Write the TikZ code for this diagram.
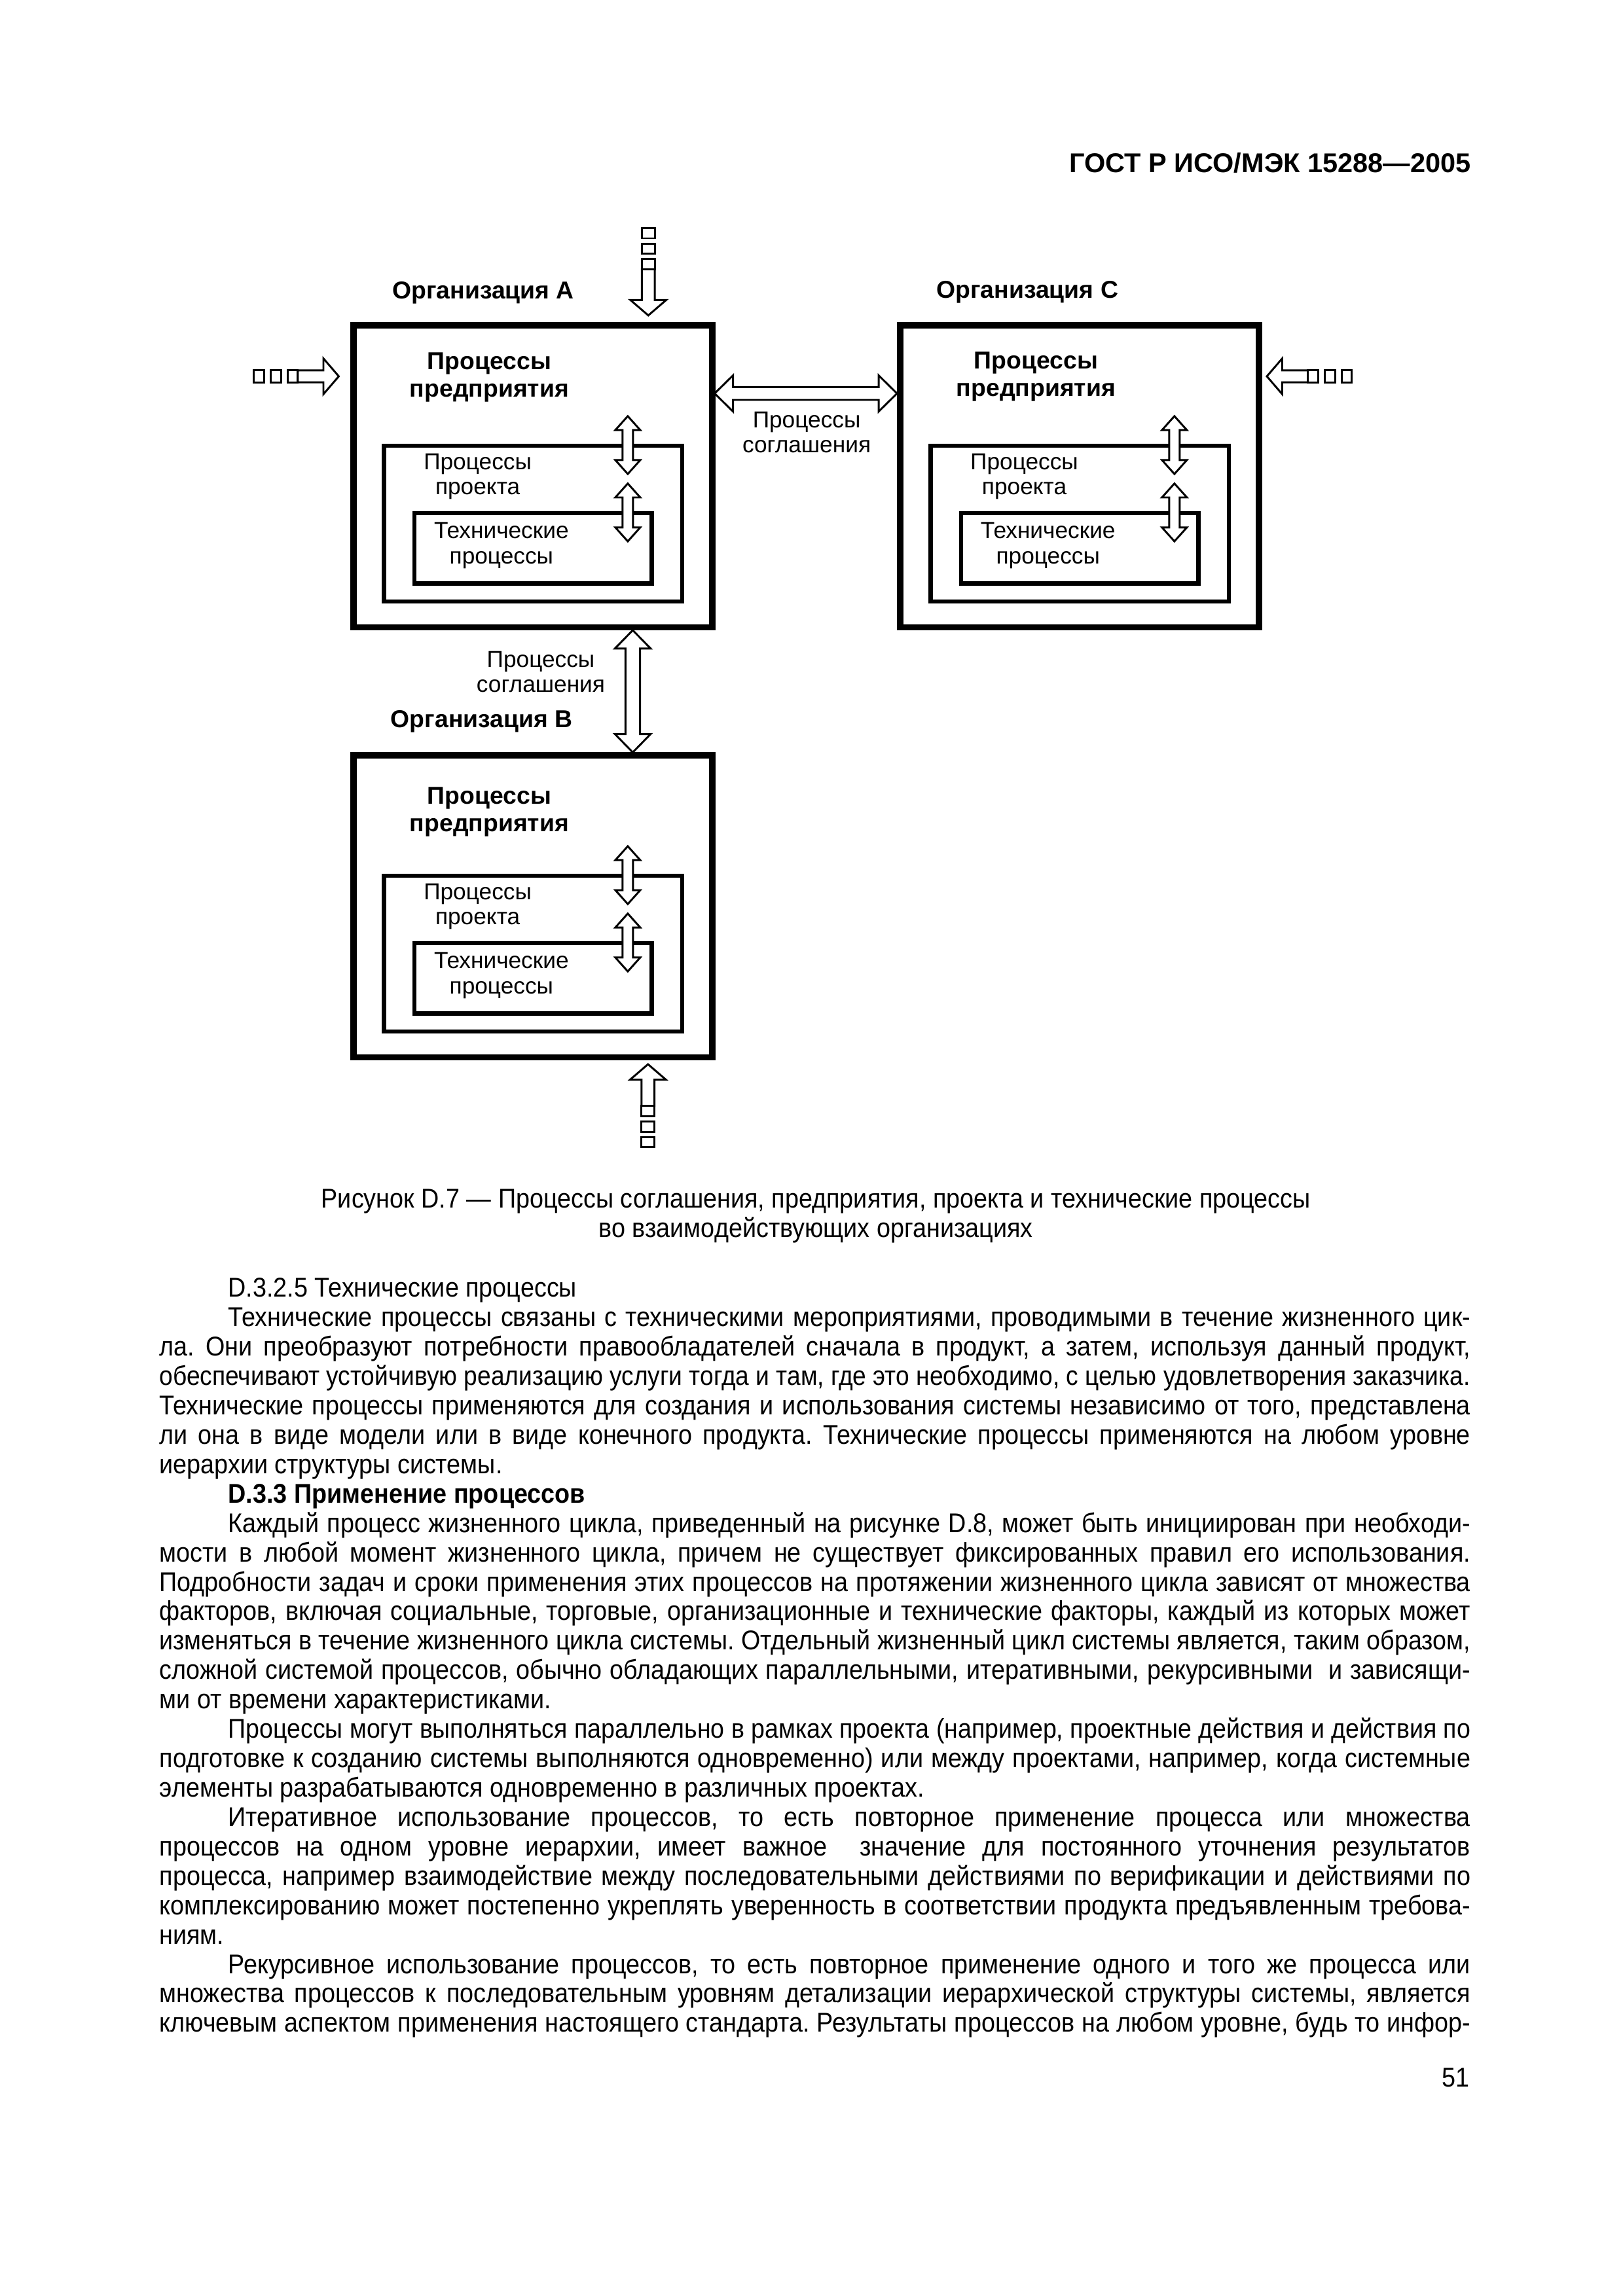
\documentclass[tikz,border=0pt]{standalone}
\usepackage{fontspec}
\setmainfont{Liberation Sans}
\newfontfamily\bodyfont[FakeStretch=0.91]{Liberation Sans}
\usepackage{graphicx}
\usetikzlibrary{calc}
\newlength\tw
\newlength\fullw \setlength\fullw{169.63mm}
\newlength\indw \setlength\indw{160.72mm}
\newcommand\jline[2]{\settowidth\tw{#2}\ifdim\tw>#1\relax\pgfmathsetmacro\jfac{#1/\tw}\scalebox{\jfac}[1]{#2}\else\makebox[#1][s]{#2}\fi}
\newcommand\vdbl[5]{%
 \draw[arrowline] (#1) -- ($(#1)+(#4,#5)$) -- ($(#1)+(#3,#5)$) -- ($(#2)+(#3,-#5)$) -- ($(#2)+(#4,-#5)$) -- (#2) -- ($(#2)+(-#4,-#5)$) -- ($(#2)+(-#3,-#5)$) -- ($(#1)+(-#3,#5)$) -- ($(#1)+(-#4,#5)$) -- cycle;}
\newcommand\hdbl[5]{%
 \draw[arrowline] (#1) -- ($(#1)+(#5,-#4)$) -- ($(#1)+(#5,-#3)$) -- ($(#2)+(-#5,-#3)$) -- ($(#2)+(-#5,-#4)$) -- (#2) -- ($(#2)+(-#5,#4)$) -- ($(#2)+(-#5,#3)$) -- ($(#1)+(#5,#3)$) -- ($(#1)+(#5,#4)$) -- cycle;}
\newcommand\inarrow[5]{%
 \begin{scope}[shift={(#1)}, rotate=#2]
 \draw[arrowline] (0,0) -- (-10.5,12.2) -- (-10.5,#5) -- ({-10.5-#3},#5) -- ({-10.5-#3},-#5) -- (-10.5,-#5) -- (-10.5,-12.2) -- cycle;
 \foreach \k in {0,1,2} \draw[arrowline] ({-10.5-#3-#4*\k},-#5) rectangle ({-10.5-#3-#4*\k-7},#5);
 \end{scope}}
\tikzset{
 outerbox/.style={draw, line width=0.8mm, rectangle, inner sep=0pt, outer sep=0pt, minimum width={245*0.18953mm}, minimum height={206.3*0.18953mm}, anchor=north west},
 projbox/.style={draw, line width=0.55mm, rectangle, inner sep=0pt, outer sep=0pt, minimum width={203.6*0.18953mm}, minimum height={106.3*0.18953mm}, anchor=north west},
 techbox/.style={draw, line width=0.55mm, rectangle, inner sep=0pt, outer sep=0pt, minimum width={162*0.18953mm}, minimum height={48*0.18953mm}, anchor=north west},
 boldlbl/.style={font=\fontsize{9}{10}\selectfont\bfseries, inner sep=0pt, anchor=base},
 lbl/.style={font=\fontsize{8.5}{10}\selectfont, inner sep=0pt, anchor=base},
 arrowline/.style={draw, fill=white, line width=0.25mm, line join=miter},
 bodyline/.style={font=\bodyfont\fontsize{10}{12}\selectfont\frenchspacing, inner sep=0pt, anchor=base west},
 captline/.style={font=\bodyfont\fontsize{10}{12}\selectfont\frenchspacing, inner sep=0pt, anchor=base},
}
\newcommand\orgbox[4]{%
 \node[outerbox] (#1) at (#2,#3) {};
 \node[projbox] (#1P) at ({#2+20.8},{#3+82.2}) {};
 \node[techbox] (#1T) at ({#2+41.6},{#3+128.2}) {};
 \node[boldlbl] (#1h1) at ({#2+92.8},{#3+#4}) {Процессы};
 \node[boldlbl] (#1h2) at ({#2+92.8},{#3+#4+18.8}) {предприятия};
 \node[lbl] (#1p1) at ({#2+84.8},{#3+98.3}) {Процессы};
 \node[lbl] (#1p2) at ({#2+84.8},{#3+115.4}) {проекта};
 \node[lbl] (#1t1) at ({#2+101},{#3+145.3}) {Технические};
 \node[lbl] (#1t2) at ({#2+101},{#3+162.7}) {процессы};
 \coordinate (#1a1) at ({#2+187.3},{#3+62});
 \coordinate (#1b1) at ({#2+187.3},{#3+101.5});
 \coordinate (#1a2) at ({#2+187.3},{#3+108});
 \coordinate (#1b2) at ({#2+187.3},{#3+147.5});
 \vdbl{#1a1}{#1b1}{3.6}{8.5}{9.5}
 \vdbl{#1a2}{#1b2}{3.6}{8.5}{9.5}
}
\begin{document}
\frenchspacing
\begin{tikzpicture}[x=0.18953mm, y=-0.18953mm]
\useasboundingbox (0,0) rectangle (1108,1568);
\fill[white] (0,0) rectangle (1108,1568);

\node[font=\fontsize{10}{12}\selectfont\bfseries, inner sep=0pt, anchor=base east] (hdr) at (1004.5,118) {ГОСТ Р ИСО/МЭК 15288—2005};

% organisations
\node[boldlbl] (orgA) at (329.9,204.2) {Организация А};
\node[boldlbl] (orgC) at (701.4,203.7) {Организация С};
\node[boldlbl] (orgB) at (328.8,496.6) {Организация В};

\orgbox{A}{241.3}{222.2}{29.9}
\orgbox{C}{614.5}{222.2}{29.6}
\orgbox{B}{241.3}{515.9}{33.1}

% agreement processes
\coordinate (acL) at (487.9,268.7);
\coordinate (acR) at (612.4,268.7);
\hdbl{acL}{acR}{4.4}{12.3}{12.5}
\node[lbl] (ac1) at (550.7,292.3) {Процессы};
\node[lbl] (ac2) at (550.7,309) {соглашения};

\coordinate (abT) at (432,430.4);
\coordinate (abB) at (432,513.8);
\vdbl{abT}{abB}{5}{12.2}{12.5}
\node[lbl] (ab1) at (369.2,455.5) {Процессы};
\node[lbl] (ab2) at (369.2,472.6) {соглашения};

% input arrows
\coordinate (inA) at (442.6,215.4);
\inarrow{inA}{-90}{21}{10.6}{4.4}
\coordinate (inAL) at (231.3,257);
\inarrow{inAL}{0}{17.5}{11.5}{4.1}
\coordinate (inC) at (864.9,257);
\inarrow{inC}{180}{17.5}{11.5}{4.1}
\coordinate (inB) at (442.4,726.8);
\inarrow{inB}{90}{18}{10.6}{4.4}

% caption
\node[captline] (cap1) at (557,824.8) {Рисунок D.7 — Процессы соглашения, предприятия, проекта и технические процессы};
\node[captline] (cap2) at (557,844.9) {во взаимодействующих организациях};

% body text
\node[bodyline] (b0) at (155.5,885.8) {D.3.2.5 Технические процессы};
\node[bodyline] (b1) at (155.5,{885.8+20.08*1}) {\jline{\indw}{Технические процессы связаны с техническими мероприятиями, проводимыми в течение жизненного цик-}};
\node[bodyline] (b2) at (108.5,{885.8+20.08*2}) {\jline{\fullw}{ла. Они преобразуют потребности правообладателей сначала в продукт, а затем, используя данный продукт,}};
\node[bodyline] (b3) at (108.5,{885.8+20.08*3}) {\jline{\fullw}{обеспечивают устойчивую реализацию услуги тогда и там, где это необходимо, с целью удовлетворения заказчика.}};
\node[bodyline] (b4) at (108.5,{885.8+20.08*4}) {\jline{\fullw}{Технические процессы применяются для создания и использования системы независимо от того, представлена}};
\node[bodyline] (b5) at (108.5,{885.8+20.08*5}) {\jline{\fullw}{ли она в виде модели или в виде конечного продукта. Технические процессы применяются на любом уровне}};
\node[bodyline] (b6) at (108.5,{885.8+20.08*6}) {иерархии структуры системы.};
\node[bodyline] (b7) at (155.5,{885.8+20.08*7}) {\bfseries D.3.3 Применение процессов};
\node[bodyline] (b8) at (155.5,{885.8+20.08*8}) {\jline{\indw}{Каждый процесс жизненного цикла, приведенный на рисунке D.8, может быть инициирован при необходи-}};
\node[bodyline] (b9) at (108.5,{885.8+20.08*9}) {\jline{\fullw}{мости в любой момент жизненного цикла, причем не существует фиксированных правил его использования.}};
\node[bodyline] (b10) at (108.5,{885.8+20.08*10}) {\jline{\fullw}{Подробности задач и сроки применения этих процессов на протяжении жизненного цикла зависят от множества}};
\node[bodyline] (b11) at (108.5,{885.8+20.08*11}) {\jline{\fullw}{факторов, включая социальные, торговые, организационные и технические факторы, каждый из которых может}};
\node[bodyline] (b12) at (108.5,{885.8+20.08*12}) {\jline{\fullw}{изменяться в течение жизненного цикла системы. Отдельный жизненный цикл системы является, таким образом,}};
\node[bodyline] (b13) at (108.5,{885.8+20.08*13}) {\jline{\fullw}{сложной системой процессов, обычно обладающих параллельными, итеративными, рекурсивными\ \ и зависящи-}};
\node[bodyline] (b14) at (108.5,{885.8+20.08*14}) {ми от времени характеристиками.};
\node[bodyline] (b15) at (155.5,{885.8+20.08*15}) {\jline{\indw}{Процессы могут выполняться параллельно в рамках проекта (например, проектные действия и действия по}};
\node[bodyline] (b16) at (108.5,{885.8+20.08*16}) {\jline{\fullw}{подготовке к созданию системы выполняются одновременно) или между проектами, например, когда системные}};
\node[bodyline] (b17) at (108.5,{885.8+20.08*17}) {элементы разрабатываются одновременно в различных проектах.};
\node[bodyline] (b18) at (155.5,{885.8+20.08*18}) {\jline{\indw}{Итеративное использование процессов, то есть повторное применение процесса или множества}};
\node[bodyline] (b19) at (108.5,{885.8+20.08*19}) {\jline{\fullw}{процессов на одном уровне иерархии, имеет важное\ \ значение для постоянного уточнения результатов}};
\node[bodyline] (b20) at (108.5,{885.8+20.08*20}) {\jline{\fullw}{процесса, например взаимодействие между последовательными действиями по верификации и действиями по}};
\node[bodyline] (b21) at (108.5,{885.8+20.08*21}) {\jline{\fullw}{комплексированию может постепенно укреплять уверенность в соответствии продукта предъявленным требова-}};
\node[bodyline] (b22) at (108.5,{885.8+20.08*22}) {ниям.};
\node[bodyline] (b23) at (155.5,{885.8+20.08*23}) {\jline{\indw}{Рекурсивное использование процессов, то есть повторное применение одного и того же процесса или}};
\node[bodyline] (b24) at (108.5,{885.8+20.08*24}) {\jline{\fullw}{множества процессов к последовательным уровням детализации иерархической структуры системы, является}};
\node[bodyline] (b25) at (108.5,{885.8+20.08*25}) {\jline{\fullw}{ключевым аспектом применения настоящего стандарта. Результаты процессов на любом уровне, будь то инфор-}};

\node[font=\bodyfont\fontsize{10}{12}\selectfont, inner sep=0pt, anchor=base east] (pg) at (1003.5,1425) {51};
\end{tikzpicture}
\end{document}
